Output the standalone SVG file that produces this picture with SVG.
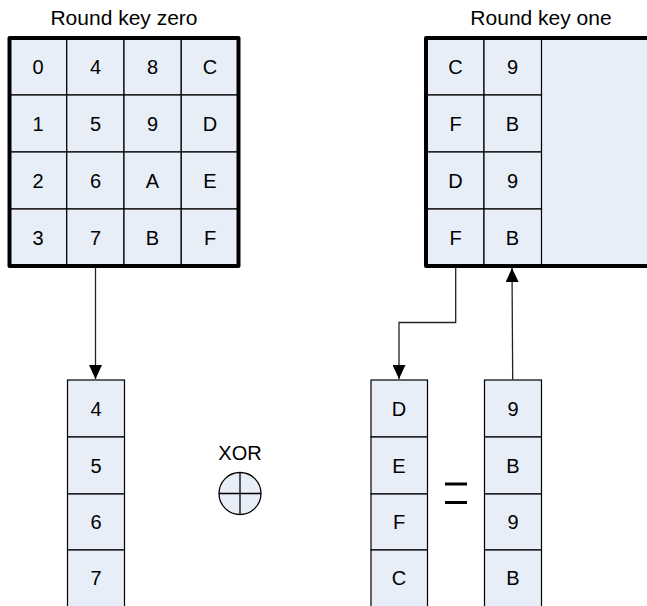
<svg xmlns="http://www.w3.org/2000/svg" width="647" height="606" viewBox="0 0 647 606">
<defs>
<style>
.t{font-family:"Liberation Sans",Arial,sans-serif;font-size:20px;fill:#000;text-anchor:middle}
.title{font-size:21px}
.cell{fill:#E8EEF7;stroke:#000;stroke-width:1.2}
.outer{fill:none;stroke:#000;stroke-width:4;stroke-linejoin:round}
.con{fill:none;stroke:#222;stroke-width:1.3}
</style>
<marker id="ah" viewBox="0 0 14 13" refX="14" refY="6.5" markerWidth="14" markerHeight="13" markerUnits="userSpaceOnUse" orient="auto">
<path d="M0,0 L14,6.5 L0,13 Z" fill="#000"/>
</marker>
</defs>
<rect width="647" height="606" fill="#fff"/>

<g id="rk0">
<text class="t title" x="124" y="25">Round key zero</text>
<g id="rk0-cells">
<rect class="cell" x="9.5" y="38" width="57.25" height="57"/>
<rect class="cell" x="66.75" y="38" width="57.25" height="57"/>
<rect class="cell" x="124" y="38" width="57.25" height="57"/>
<rect class="cell" x="181.25" y="38" width="57.25" height="57"/>
<rect class="cell" x="9.5" y="95" width="57.25" height="57"/>
<rect class="cell" x="66.75" y="95" width="57.25" height="57"/>
<rect class="cell" x="124" y="95" width="57.25" height="57"/>
<rect class="cell" x="181.25" y="95" width="57.25" height="57"/>
<rect class="cell" x="9.5" y="152" width="57.25" height="57"/>
<rect class="cell" x="66.75" y="152" width="57.25" height="57"/>
<rect class="cell" x="124" y="152" width="57.25" height="57"/>
<rect class="cell" x="181.25" y="152" width="57.25" height="57"/>
<rect class="cell" x="9.5" y="209" width="57.25" height="57"/>
<rect class="cell" x="66.75" y="209" width="57.25" height="57"/>
<rect class="cell" x="124" y="209" width="57.25" height="57"/>
<rect class="cell" x="181.25" y="209" width="57.25" height="57"/>
</g>
<rect class="outer" x="9.5" y="38" width="229" height="228"/>
<text class="t" x="38" y="74">0</text><text class="t" x="95.5" y="74">4</text><text class="t" x="152.5" y="74">8</text><text class="t" x="210" y="74">C</text>
<text class="t" x="38" y="131">1</text><text class="t" x="95.5" y="131">5</text><text class="t" x="152.5" y="131">9</text><text class="t" x="210" y="131">D</text>
<text class="t" x="38" y="188">2</text><text class="t" x="95.5" y="188">6</text><text class="t" x="152.5" y="188">A</text><text class="t" x="210" y="188">E</text>
<text class="t" x="38" y="245">3</text><text class="t" x="95.5" y="245">7</text><text class="t" x="152.5" y="245">B</text><text class="t" x="210" y="245">F</text>
</g>

<g id="rk1">
<text class="t title" x="541" y="25">Round key one</text>
<rect x="426" y="38" width="240" height="228" fill="#E8EEF7"/>
<rect class="cell" x="426" y="38" width="58" height="57"/>
<rect class="cell" x="484" y="38" width="57.5" height="57"/>
<rect class="cell" x="426" y="95" width="58" height="57"/>
<rect class="cell" x="484" y="95" width="57.5" height="57"/>
<rect class="cell" x="426" y="152" width="58" height="57"/>
<rect class="cell" x="484" y="152" width="57.5" height="57"/>
<rect class="cell" x="426" y="209" width="58" height="57"/>
<rect class="cell" x="484" y="209" width="57.5" height="57"/>
<rect class="outer" x="426" y="38" width="240" height="228"/>
<text class="t" x="455.5" y="74">C</text><text class="t" x="512.5" y="74">9</text>
<text class="t" x="455.5" y="131">F</text><text class="t" x="512.5" y="131">B</text>
<text class="t" x="455.5" y="188">D</text><text class="t" x="512.5" y="188">9</text>
<text class="t" x="455.5" y="245">F</text><text class="t" x="512.5" y="245">B</text>
</g>

<g id="col-a">
<rect class="cell" x="67.5" y="380" width="57" height="57"/>
<rect class="cell" x="67.5" y="437" width="57" height="57"/>
<rect class="cell" x="67.5" y="494" width="57" height="56"/>
<rect class="cell" x="67.5" y="550" width="57" height="70"/>
<text class="t" x="96" y="416">4</text>
<text class="t" x="96" y="473">5</text>
<text class="t" x="96" y="529">6</text>
<text class="t" x="96" y="585">7</text>
</g>

<g id="xor">
<text class="t" x="240" y="460">XOR</text>
<circle cx="240" cy="493.5" r="21" fill="#E8EEF7" stroke="#000" stroke-width="1.3"/>
<line x1="219" y1="493.5" x2="261" y2="493.5" stroke="#000" stroke-width="1.3"/>
<line x1="240" y1="472.5" x2="240" y2="514.5" stroke="#000" stroke-width="1.3"/>
</g>

<g id="col-b">
<rect class="cell" x="371" y="380" width="56.5" height="57"/>
<rect class="cell" x="371" y="437" width="56.5" height="57"/>
<rect class="cell" x="371" y="494" width="56.5" height="56"/>
<rect class="cell" x="371" y="550" width="56.5" height="70"/>
<text class="t" x="399" y="416">D</text>
<text class="t" x="399" y="473">E</text>
<text class="t" x="399" y="529">F</text>
<text class="t" x="399" y="585">C</text>
</g>

<g id="equals">
<line x1="445" y1="484" x2="467" y2="484" stroke="#000" stroke-width="3"/>
<line x1="445" y1="502.5" x2="467" y2="502.5" stroke="#000" stroke-width="3"/>
</g>

<g id="col-c">
<rect class="cell" x="484.5" y="380" width="57" height="57"/>
<rect class="cell" x="484.5" y="437" width="57" height="57"/>
<rect class="cell" x="484.5" y="494" width="57" height="56"/>
<rect class="cell" x="484.5" y="550" width="57" height="70"/>
<text class="t" x="513" y="416">9</text>
<text class="t" x="513" y="473">B</text>
<text class="t" x="513" y="529">9</text>
<text class="t" x="513" y="585">B</text>
</g>

<g id="connectors">
<path class="con" d="M95.5,268 L95.5,379" marker-end="url(#ah)"/>
<path class="con" d="M455.7,268 L455.7,322.5 L399,322.5 L399,379" marker-end="url(#ah)"/>
<path class="con" d="M512.7,379.5 L512,268" marker-end="url(#ah)"/>
</g>
</svg>
